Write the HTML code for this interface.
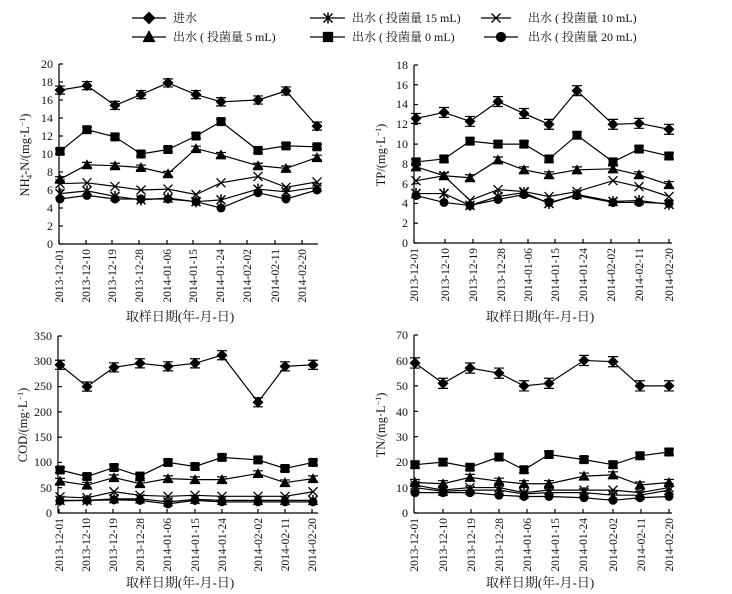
<!DOCTYPE html>
<html><head><meta charset="utf-8">
<style>
html,body{margin:0;padding:0;background:#fff;}
svg{display:block;}
text{font-family:"Liberation Serif","Noto Serif CJK SC",serif;fill:#111;}
</style></head>
<body>
<svg id="s" width="732" height="594" viewBox="0 0 732 594" xmlns="http://www.w3.org/2000/svg">
<g id="legend" stroke="#000" stroke-width="1.3">
<line x1="132" y1="18" x2="166" y2="18"/>
<line x1="132" y1="37" x2="166" y2="37"/>
<line x1="310" y1="18" x2="345" y2="18"/>
<line x1="310" y1="37" x2="345" y2="37"/>
<line x1="481" y1="18" x2="511" y2="18"/>
<line x1="484" y1="37" x2="518" y2="37"/>
</g>
<g font-size="12">
<text x="173" y="22">进水</text>
<text x="173" y="41">出水 ( 投菌量 5 mL)</text>
<text x="352" y="22">出水 ( 投菌量 15 mL)</text>
<text x="352" y="41">出水 ( 投菌量 0 mL)</text>
<text x="528" y="22">出水 ( 投菌量 10 mL)</text>
<text x="528" y="41">出水 ( 投菌量 20 mL)</text>
</g>
<g id="axes"></g>
<g id="data"></g>
<g font-size="12.5">
<text transform="translate(29,155) rotate(-90)" text-anchor="middle">NH<tspan font-size="8" dy="-4">+</tspan><tspan font-size="8" dy="7" dx="-5">4</tspan><tspan dy="-3">-N/(mg·L</tspan><tspan font-size="8" dy="-4">−1</tspan><tspan dy="4">)</tspan></text>
<text transform="translate(385,155) rotate(-90)" text-anchor="middle">TP/(mg·L<tspan font-size="8" dy="-4">−1</tspan><tspan dy="4">)</tspan></text>
<text transform="translate(27,425) rotate(-90)" text-anchor="middle">COD/(mg·L<tspan font-size="8" dy="-4">−1</tspan><tspan dy="4">)</tspan></text>
<text transform="translate(385,425) rotate(-90)" text-anchor="middle">TN/(mg·L<tspan font-size="8" dy="-4">−1</tspan><tspan dy="4">)</tspan></text>
<text x="180" y="321" text-anchor="middle" font-size="13">取样日期(年-月-日)</text>
<text x="540" y="321" text-anchor="middle" font-size="13">取样日期(年-月-日)</text>
<text x="180" y="587" text-anchor="middle" font-size="13">取样日期(年-月-日)</text>
<text x="540" y="587" text-anchor="middle" font-size="13">取样日期(年-月-日)</text>
</g>
<g id="ticklabels" font-size="12">
<text x="53" y="248" text-anchor="end">0</text><text x="53" y="230" text-anchor="end">2</text><text x="53" y="212" text-anchor="end">4</text><text x="53" y="194" text-anchor="end">6</text><text x="53" y="176" text-anchor="end">8</text><text x="53" y="158" text-anchor="end">10</text><text x="53" y="140" text-anchor="end">12</text><text x="53" y="122" text-anchor="end">14</text><text x="53" y="104" text-anchor="end">16</text><text x="53" y="86" text-anchor="end">18</text><text x="53" y="68" text-anchor="end">20</text>
<text x="408" y="247" text-anchor="end">0</text><text x="408" y="227" text-anchor="end">2</text><text x="408" y="207" text-anchor="end">4</text><text x="408" y="188" text-anchor="end">6</text><text x="408" y="168" text-anchor="end">8</text><text x="408" y="148" text-anchor="end">10</text><text x="408" y="128" text-anchor="end">12</text><text x="408" y="108" text-anchor="end">14</text><text x="408" y="89" text-anchor="end">16</text><text x="408" y="69" text-anchor="end">18</text>
<text x="52" y="517" text-anchor="end">0</text><text x="52" y="492" text-anchor="end">50</text><text x="52" y="466" text-anchor="end">100</text><text x="52" y="441" text-anchor="end">150</text><text x="52" y="416" text-anchor="end">200</text><text x="52" y="390" text-anchor="end">250</text><text x="52" y="365" text-anchor="end">300</text><text x="52" y="340" text-anchor="end">350</text>
<text x="408" y="517" text-anchor="end">0</text><text x="408" y="492" text-anchor="end">10</text><text x="408" y="466" text-anchor="end">20</text><text x="408" y="441" text-anchor="end">30</text><text x="408" y="416" text-anchor="end">40</text><text x="408" y="390" text-anchor="end">50</text><text x="408" y="365" text-anchor="end">60</text><text x="408" y="339" text-anchor="end">70</text>
</g>
<g id="xl" font-size="11.5"></g>
</svg>
<script>
var NS="http://www.w3.org/2000/svg";
function el(p,t,a){var e=document.createElementNS(NS,t);for(var k in a)e.setAttribute(k,a[k]);p.appendChild(e);return e;}
var data=document.getElementById('data'),axes=document.getElementById('axes');
function marker(g,type,x,y){
  var r=4.5;
  if(type=='d')el(g,'polygon',{points:(x)+','+(y-r-1)+' '+(x+r+1)+','+y+' '+x+','+(y+r+1)+' '+(x-r-1)+','+y,fill:'#000'});
  else if(type=='s')el(g,'rect',{x:x-r,y:y-r,width:2*r,height:2*r,fill:'#000'});
  else if(type=='t')el(g,'polygon',{points:x+','+(y-r-1)+' '+(x+r+1)+','+(y+r)+' '+(x-r-1)+','+(y+r),fill:'#000'});
  else if(type=='c')el(g,'circle',{cx:x,cy:y,r:r,fill:'#000'});
  else if(type=='x'){el(g,'path',{d:'M'+(x-r)+' '+(y-r)+'L'+(x+r)+' '+(y+r)+'M'+(x+r)+' '+(y-r)+'L'+(x-r)+' '+(y+r),stroke:'#000','stroke-width':1.3,fill:'none'});}
  else if(type=='a'){el(g,'path',{d:'M'+(x-r)+' '+(y-r)+'L'+(x+r)+' '+(y+r)+'M'+(x+r)+' '+(y-r)+'L'+(x-r)+' '+(y+r)+'M'+x+' '+(y-r-1)+'L'+x+' '+(y+r+1),stroke:'#000','stroke-width':1.5,fill:'none'});}
}
var dates=['2013-12-01','2013-12-10','2013-12-19','2013-12-28','2014-01-06','2014-01-15','2014-01-24','2014-02-02','2014-02-11','2014-02-20'];
var charts=[
 {ax:59,y0:244,ymax:20,ytop:64,axEnd:318,ticks:[59,86,112,139,167,193,220,247,275,302],
  xs:[60,87,115,141,168,196,221,258,286,317],eb:0.45,
  s:{d:[17.1,17.6,15.4,16.6,17.9,16.6,15.8,16.0,17.0,13.1],
     s:[10.3,12.7,11.9,10.0,10.5,12.0,13.6,10.4,10.9,10.8],
     t:[7.2,8.8,8.7,8.5,7.8,10.6,9.9,8.7,8.4,9.6],
     x:[6.7,6.8,6.4,6.0,6.1,5.5,6.8,7.5,6.3,6.9],
     a:[5.6,5.9,5.3,4.9,5.1,4.7,4.9,6.1,5.8,6.3],
     c:[5.0,5.4,5.0,5.0,5.0,4.7,4.0,5.7,5.0,6.0]}},
 {ax:414,y0:243,ymax:18,ytop:65,axEnd:672,ticks:[414,445,473,501,528,555,583,611,639,669],
  xs:[416,444,470,498,524,549,577,613,639,669],eb:0.5,
  s:{d:[12.6,13.2,12.3,14.3,13.1,12.0,15.4,12.0,12.1,11.5],
     s:[8.2,8.5,10.3,10.0,10.0,8.5,10.9,8.2,9.5,8.8],
     t:[7.7,6.8,6.6,8.4,7.4,6.9,7.4,7.5,6.9,5.9],
     x:[6.3,6.8,4.3,5.4,5.2,4.7,5.2,6.3,5.7,4.7],
     a:[5.0,5.0,3.8,4.7,5.1,4.0,4.9,4.2,4.3,3.9],
     c:[4.8,4.1,3.8,4.4,4.9,4.1,4.8,4.1,4.1,4.0]}},
 {ax:58,y0:513,ymax:350,ytop:336,axEnd:318,ticks:[59,86,113,140,167,195,222,258,285,312],
  xs:[60,87,114,140,168,195,222,258,285,313],eb:9,
  s:{d:[293,250,288,296,290,296,312,219,290,293],
     s:[85,72,90,73,100,92,110,105,88,100],
     t:[63,55,70,58,68,66,66,78,60,68],
     x:[32,30,42,35,33,35,33,33,33,42],
     a:[25,25,28,28,22,27,25,25,25,25],
     c:[24,25,26,25,18,25,22,22,22,22]}},
 {ax:414,y0:513,ymax:70,ytop:335,axEnd:672,ticks:[414,443,471,499,527,555,583,613,641,669],
  xs:[415,443,470,499,524,549,584,613,640,669],eb:2,
  s:{d:[59,51,57,55,50,51,60,59.5,50,50],
     s:[19,20,18,22,17,23,21,19,22.5,24],
     t:[12,11.5,14,12.5,11.5,11.5,14.5,15,11,12],
     x:[11,9,10,10,8,9,9,9,8,10],
     a:[10,8.5,9,9,7.5,8,8,7,7,9],
     c:[8,8,8,7,6.5,6.5,6,5,6,6.5]}}
];
var xl=document.getElementById('xl');
charts.forEach(function(c,ci){
  var g=el(axes,'g',{stroke:'#000','stroke-width':1.2,fill:'none'});
  el(g,'line',{x1:c.ax,y1:c.ytop,x2:c.ax,y2:c.y0});
  el(g,'line',{x1:c.ax,y1:c.y0,x2:c.axEnd,y2:c.y0});
  var nt=(ci==2||ci==3)?7:(ci==0?10:9);
  for(var i=0;i<=nt;i++){var yy=c.y0-(c.y0-c.ytop)*i/nt;el(g,'line',{x1:c.ax,y1:yy,x2:c.ax+4,y2:yy});}
  c.ticks.forEach(function(t){el(g,'line',{x1:t,y1:c.y0,x2:t,y2:c.y0-4});});
  c.ticks.forEach(function(t,i){
    var tx=el(xl,'text',{transform:'translate('+(t+4)+','+(c.y0+5)+') rotate(-90)','text-anchor':'end'});
    tx.textContent=dates[i];
  });
  var sc=(c.y0-c.ytop)/c.ymax;
  var dg=el(data,'g',{});
  ['d','s','t','x','a','c'].forEach(function(k){
    var v=c.s[k];var pts=v.map(function(val,i){return c.xs[i]+','+(c.y0-val*sc);}).join(' ');
    el(dg,'polyline',{points:pts,fill:'none',stroke:'#000','stroke-width':1.2});
    v.forEach(function(val,i){
      var x=c.xs[i],y=c.y0-val*sc,e=c.eb*sc*(k=='d'?1:0.6);
      if(k=='d'||k=='s'||k=='t'){
        el(dg,'path',{d:'M'+x+' '+(y-e)+'L'+x+' '+(y+e)+'M'+(x-5)+' '+(y-e)+'L'+(x+5)+' '+(y-e)+'M'+(x-5)+' '+(y+e)+'L'+(x+5)+' '+(y+e),stroke:'#000','stroke-width':1.2});
      }
      marker(dg,k,x,y);
    });
  });
});
var lg=document.getElementById('legend');
marker(lg,'d',149,18);marker(lg,'t',149,37);marker(lg,'a',328,18);marker(lg,'s',328,37);marker(lg,'x',496,18);marker(lg,'c',501,37);
</script>
</body></html>
